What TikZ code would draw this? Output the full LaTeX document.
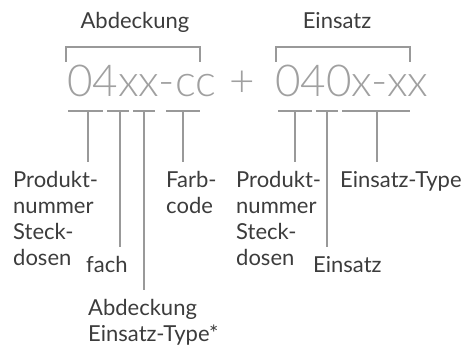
\documentclass[tikz,border=0pt]{standalone}
\usepackage{fontspec}
\setmainfont{Lato}
\newfontfamily\codefont{Lato Light}
\definecolor{labelgray}{HTML}{3C3C3C}
\definecolor{codegray}{HTML}{A0A0A0}
\definecolor{linegray}{HTML}{999999}
\begin{document}
\begin{tikzpicture}[x=1pt,y=-1pt,
  lbl/.style={inner sep=0pt,anchor=north west,align=left,text=labelgray,
    font=\fontsize{22}{26}\selectfont},
  ttl/.style={inner sep=0pt,anchor=base,text=labelgray,font=\fontsize{22}{26}\selectfont},
  code/.style={inner sep=0pt,anchor=base west,text=codegray,font=\codefont\fontsize{44}{50}\selectfont},
  bar/.style={draw=linegray,line width=2pt},
  stem/.style={draw=linegray,line width=2pt,shorten >=9pt}]
\useasboundingbox (0,0) rectangle (464,347);
% titles
\node[ttl] (tA) at (135,29) {Abdeckung};
\node[ttl] (tE) at (337,29) {Einsatz};
% codes
\node[code] (cA) at (67,97) {04xx-cc};
\node[code,anchor=base] (plus) at (242,97) {+};
\node[code] (cE) at (275,97) {040x-xx};
% brackets
\coordinate (bAl) at (66,62); \coordinate (bAr) at (200,62);
\coordinate (bEl) at (276,62); \coordinate (bEr) at (410,62);
\draw[bar] (bAl) -- ++(0,-15) -| (bAr);
\draw[bar] (bEl) -- ++(0,-15) -| (bEr);
% labels
\node[lbl] (lA1) at (13,171) {Produkt-\\nummer\\Steck-\\dosen};
\node[lbl] (lA2) at (86,256) {fach};
\node[lbl] (lA3) at (88,299) {Abdeckung\\Einsatz-Type*};
\node[lbl] (lA4) at (166,171) {Farb-\\code};
\node[lbl] (lE1) at (236,171) {Produkt-\\nummer\\Steck-\\dosen};
\node[lbl] (lE2) at (313,256) {Einsatz};
\node[lbl] (lE3) at (340,171) {Einsatz-Type};
% bars
\foreach \n/\a/\b in {A1/68/103,A2/107/129,A3/133/155,A4/166/200,E1/278/312,E2/316/338,E3/342/410}{
  \coordinate (p\n l) at (\a,111); \coordinate (p\n r) at (\b,111);
  \draw[bar] (p\n l) -- (p\n r);
}
% stem tops
\coordinate (sA1) at (88,111);
\coordinate (sA2) at (120,111);
\coordinate (sA3) at (144,111);
\coordinate (sA4) at (183,111);
\coordinate (sE1) at (295,111);
\coordinate (sE2) at (327,111);
\coordinate (sE3) at (377,111);
\foreach \n in {A1,A2,A3,A4,E1,E2,E3}{
  \draw[stem] (s\n) -- (s\n |- l\n.north);
}
\end{tikzpicture}
\end{document}
